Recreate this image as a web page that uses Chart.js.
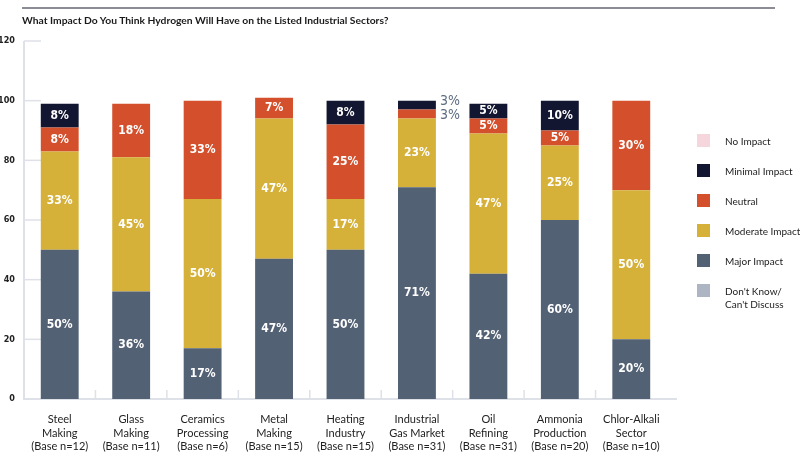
<!DOCTYPE html>
<html>
<head>
    <title>Hydrogen Impact</title>
    <script src="https://cdn.jsdelivr.net/npm/chart.js"></script>
    <style>
        body { margin: 0; background: #fff; }
        #wrap { position: relative; width: 800px; height: 455px; }
        #topline { position: absolute; left: 22px; top: 7px; width: 753px; height: 2px; background: #8a8d96; }
        #title { position: absolute; left: 22px; top: 14px; font: bold 10.3px Lato, sans-serif; color: #1a1a1a; }
        #legend { position: absolute; left: 697px; top: 134px; font: 10px Lato, sans-serif; color: #222; }
        .item { position: relative; height: 30px; }
        .box { position: absolute; left: 0; top: 0; width: 13px; height: 13px; }
        .lbl { position: absolute; left: 28px; top: 1px; line-height: 13px; white-space: nowrap; }
    </style>
</head>
<body>
<div id="wrap">
    <div id="topline"></div>
    <div id="title">What Impact Do You Think Hydrogen Will Have on the Listed Industrial Sectors?</div>
    <canvas id="chart" width="800" height="455"></canvas>
    <div id="legend"></div>
</div>
<script>
    var categories = [
        ["Steel", "Making", "(Base n=12)"],
        ["Glass", "Making", "(Base n=11)"],
        ["Ceramics", "Processing", "(Base n=6)"],
        ["Metal", "Making", "(Base n=15)"],
        ["Heating", "Industry", "(Base n=15)"],
        ["Industrial", "Gas Market", "(Base n=31)"],
        ["Oil", "Refining", "(Base n=31)"],
        ["Ammonia", "Production", "(Base n=20)"],
        ["Chlor-Alkali", "Sector", "(Base n=10)"]
    ];
    var dontKnow = [0, 0, 0, 0, 0, 0, 0, 0, 0];
    var majorImpact = [50, 36, 17, 47, 50, 71, 42, 60, 20];
    var moderateImpact = [33, 45, 50, 47, 17, 23, 47, 25, 50];
    var neutral = [8, 18, 33, 7, 25, 3, 5, 5, 30];
    var minimalImpact = [8, 0, 0, 0, 8, 3, 5, 10, 0];
    var noImpact = [0, 0, 0, 0, 0, 0, 0, 0, 0];
    var yTicks = [0, 20, 40, 60, 80, 100, 120];

    var series = [
        { label: "Don't Know/\nCan't Discuss", data: dontKnow, color: "#adb5c3" },
        { label: "Major Impact", data: majorImpact, color: "#536175" },
        { label: "Moderate Impact", data: moderateImpact, color: "#d6b13a" },
        { label: "Neutral", data: neutral, color: "#d4502c" },
        { label: "Minimal Impact", data: minimalImpact, color: "#121630" },
        { label: "No Impact", data: noImpact, color: "#f5d6dc" }
    ];

    var narrow = "'DejaVu Sans Condensed', 'Liberation Sans Narrow', sans-serif";

    // percentage labels inside each segment
    var segmentLabels = {
        id: "segmentLabels",
        afterDatasetsDraw: function (chart) {
            var ctx = chart.ctx;
            ctx.save();
            chart.data.datasets.forEach(function (ds, i) {
                var meta = chart.getDatasetMeta(i);
                meta.data.forEach(function (bar, j) {
                    var v = ds.data[j];
                    if (!v) return;
                    var mid = (bar.y + bar.base) / 2;
                    if (v < 4) {
                        ctx.font = "14px " + narrow;
                        ctx.fillStyle = "#5b6b80";
                        ctx.textAlign = "left";
                        ctx.textBaseline = "middle";
                        var dy = ds.label === "Minimal Impact" ? -4 : 1;
                        ctx.fillText(v + "%", bar.x + bar.width / 2 + 4, mid + dy);
                    } else {
                        ctx.font = "bold 12px " + narrow;
                        ctx.fillStyle = "#ffffff";
                        ctx.textAlign = "center";
                        ctx.textBaseline = "middle";
                        ctx.fillText(v + "%", bar.x, mid);
                    }
                });
            });
            ctx.restore();
        }
    };

    // short grid stubs along the axes
    var stubs = {
        id: "stubs",
        beforeDatasetsDraw: function (chart) {
            var ctx = chart.ctx, a = chart.chartArea;
            var ys = chart.scales.y, xs = chart.scales.x;
            ctx.save();
            ctx.strokeStyle = "#dfe1e8";
            ctx.lineWidth = 1.5;
            yTicks.forEach(function (t) {
                var y = ys.getPixelForValue(t);
                ctx.beginPath();
                ctx.moveTo(a.left, y);
                ctx.lineTo(a.left + 17, y);
                ctx.stroke();
            });
            for (var k = 1; k < categories.length; k++) {
                var x = (xs.getPixelForValue(k - 1) + xs.getPixelForValue(k)) / 2;
                ctx.beginPath();
                ctx.moveTo(x, a.bottom);
                ctx.lineTo(x, a.bottom - 9);
                ctx.stroke();
            }
            ctx.lineWidth = 2;
            ctx.beginPath();
            ctx.moveTo(a.left, a.top);
            ctx.lineTo(a.left, a.bottom);
            ctx.lineTo(a.right + 10, a.bottom);
            ctx.stroke();
            ctx.restore();
        }
    };

    var ctx = document.getElementById("chart").getContext("2d");
    var chart = new Chart(ctx, {
        type: "bar",
        data: {
            labels: categories,
            datasets: series.map(function (s) {
                return {
                    label: s.label,
                    data: s.data,
                    backgroundColor: s.color,
                    borderWidth: 0,
                    barPercentage: 0.53,
                    categoryPercentage: 1
                };
            })
        },
        options: {
            responsive: false,
            animation: false,
            layout: { padding: { left: 0, right: 133, top: 41, bottom: 0 } },
            plugins: {
                legend: { display: false },
                tooltip: { enabled: false }
            },
            scales: {
                x: {
                    stacked: true,
                    grid: { display: false, drawTicks: false },
                    border: { display: false },
                    ticks: {
                        color: "#222",
                        font: { family: "Lato, sans-serif", size: 11, lineHeight: 1.27 },
                        padding: 13,
                        maxRotation: 0
                    },
                    afterFit: function (s) { s.height = 56; }
                },
                y: {
                    stacked: true,
                    min: 0,
                    max: 120,
                    grid: { display: false, drawTicks: false },
                    border: { display: false },
                    ticks: {
                        stepSize: 20,
                        color: "#222",
                        padding: 9,
                        font: { family: narrow, size: 9, weight: "bold" }
                    },
                    afterFit: function (s) { s.width = 24; }
                }
            }
        },
        plugins: [stubs, segmentLabels]
    });

    // legend, top item first
    var legend = document.getElementById("legend");
    series.slice().reverse().forEach(function (s) {
        var item = document.createElement("div");
        item.className = "item";
        var box = document.createElement("div");
        box.className = "box";
        box.style.background = s.color;
        var lbl = document.createElement("div");
        lbl.className = "lbl";
        lbl.innerHTML = s.label.replace("\n", "<br>");
        item.appendChild(box);
        item.appendChild(lbl);
        legend.appendChild(item);
    });
</script>
</body>
</html>
